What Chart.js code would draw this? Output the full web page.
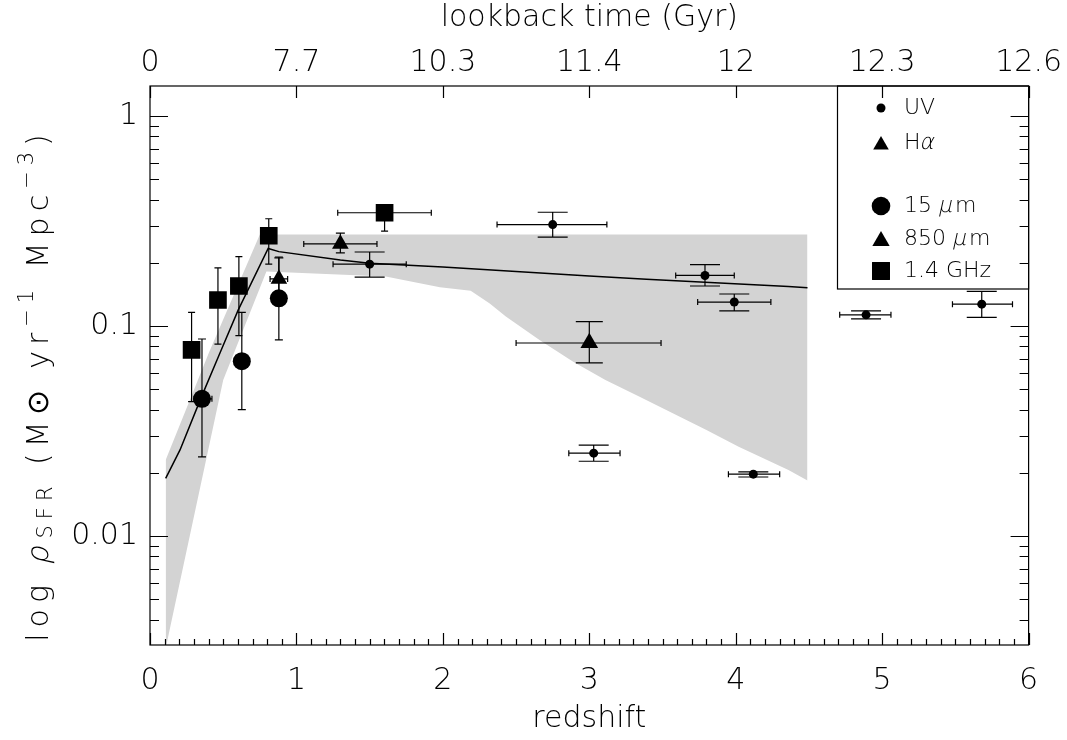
<!DOCTYPE html>
<html>
<head>
<meta charset="utf-8">
<script src="https://cdn.jsdelivr.net/npm/chart.js@4.4.1/dist/chart.umd.min.js"></script>
<style>
  html, body { margin: 0; padding: 0; background: #fff; }
  #wrap { width: 1067px; height: 740px; position: relative; }
</style>
</head>
<body>
<div id="wrap"><canvas id="sfr-chart"></canvas></div>
<script>
// axis ticks: redshift on the bottom, lookback time (Gyr) on top
const redshiftTicks = [0, 1, 2, 3, 4, 5, 6];
const lookbackLabels = ["0", "7.7", "10.3", "11.4", "12", "12.3", "12.6"];
const rhoTickValues = [0.01, 0.1, 1];
const rhoTickLabels = ["0.01", "0.1", "1"];

// UV points
const uvZ      = [1.50, 2.75, 3.03, 3.79, 3.99, 4.12, 4.89, 5.68];
const uvRho    = [0.197, 0.304, 0.0248, 0.174, 0.130, 0.0197, 0.113, 0.127];
const uvZLo    = [1.25, 2.37, 2.86, 3.59, 3.74, 3.95, 4.71, 5.48];
const uvZHi    = [1.75, 3.12, 3.21, 3.99, 4.24, 4.30, 5.06, 5.89];
const uvRhoLo  = [0.171, 0.265, 0.0227, 0.155, 0.118, 0.0191, 0.108, 0.110];
const uvRhoHi  = [0.225, 0.348, 0.0271, 0.196, 0.142, 0.0202, 0.118, 0.146];

// H-alpha points
const haZ      = [0.88, 1.30];
const haRho    = [0.1675, 0.246];
const haZLo    = [0.82, 1.05];
const haZHi    = [0.94, 1.55];
const haRhoLo  = [0.14, 0.223];
const haRhoHi  = [0.211, 0.277];

// 15 micron points
const irZ      = [0.355, 0.627, 0.88];
const irRho    = [0.045, 0.068, 0.1355];
const irZLo    = [0.30, 0.627, 0.88];
const irZHi    = [0.423, 0.627, 0.88];
const irRhoLo  = [0.0238, 0.040, 0.0858];
const irRhoHi  = [0.0867, 0.116, 0.213];

// 850 micron point
const smmZ     = [3.0];
const smmRho   = [0.083];
const smmZLo   = [2.5];
const smmZHi   = [3.49];
const smmRhoLo = [0.0667];
const smmRhoHi = [0.105];

// 1.4 GHz points
const radioZ     = [0.284, 0.464, 0.607, 0.811, 1.602];
const radioRho   = [0.0769, 0.133, 0.155, 0.269, 0.346];
const radioZLo   = [0.284, 0.464, 0.607, 0.811, 1.282];
const radioZHi   = [0.284, 0.464, 0.607, 0.811, 1.921];
const radioRhoLo = [0.0436, 0.082, 0.090, 0.197, 0.283];
const radioRhoHi = [0.116, 0.189, 0.214, 0.324, 0.36];

// model curve
const modelZ   = [0.107, 0.205, 0.352, 0.477, 0.602, 0.807, 0.88, 1.3, 1.5, 2.0, 3.0, 3.39, 4.36, 4.49];
const modelRho = [0.0188, 0.0257, 0.0461, 0.0741, 0.119, 0.234, 0.226, 0.206, 0.199, 0.191, 0.173, 0.167, 0.154, 0.152];

// grey band: upper and lower edges
const bandUpZ   = [0.107, 0.40, 0.75, 4.49];
const bandUpRho = [0.023, 0.074, 0.273, 0.273];
const bandLoZ   = [0.107, 0.50, 0.795, 1.61, 1.98, 2.19, 2.32, 2.43, 2.66, 2.89, 3.11, 3.34, 3.57, 3.80, 4.02, 4.36, 4.49];
const bandLoRho = [0.00292, 0.0553, 0.1815, 0.172, 0.153, 0.147, 0.128, 0.111, 0.0858, 0.0676, 0.0553, 0.0461, 0.0384, 0.032, 0.0266, 0.0206, 0.0184];

const toXY = (xs, ys) => xs.map((x, i) => ({ x: x, y: ys[i] }));

const FONT = "'DejaVu Sans', sans-serif";
Chart.defaults.font.family = FONT;
Chart.defaults.font.weight = "200";
Chart.defaults.color = "#000";

// thin text with a hand-made slant for the greek letters (the oblique face is too heavy)
function putText(ctx, txt, x, y, font, slant) {
  ctx.font = font;
  if (!slant) { ctx.fillText(txt, x, y); return; }
  ctx.save();
  ctx.translate(x, y);
  ctx.transform(1, 0, -0.22, 1, 0, 0);
  ctx.fillText(txt, 0, 0);
  ctx.restore();
}

// error bars, drawn just before each dataset's markers
const errorBars = {
  id: "errorBars",
  beforeDatasetDraw(chart, args) {
    const ds = chart.data.datasets[args.index];
    if (!ds.errors) return;
    const e = ds.errors;
    const x = chart.scales.x, y = chart.scales.y;
    const ctx = chart.ctx;
    ctx.save();
    ctx.strokeStyle = "#000";
    ctx.lineWidth = 1.2;
    for (let i = 0; i < e.z.length; i++) {
      const px = x.getPixelForValue(e.z[i]);
      const py = y.getPixelForValue(e.rho[i]);
      ctx.beginPath();
      if (e.lo[i] !== e.hi[i]) {
        const yl = y.getPixelForValue(e.lo[i]);
        const yh = y.getPixelForValue(e.hi[i]);
        ctx.moveTo(px, yl); ctx.lineTo(px, yh);
        ctx.moveTo(px - e.cap / 2, yl); ctx.lineTo(px + e.cap / 2, yl);
        ctx.moveTo(px - e.cap / 2, yh); ctx.lineTo(px + e.cap / 2, yh);
      }
      if (e.zLo[i] !== e.zHi[i]) {
        const xl = x.getPixelForValue(e.zLo[i]);
        const xh = x.getPixelForValue(e.zHi[i]);
        ctx.moveTo(xl, py); ctx.lineTo(xh, py);
        ctx.moveTo(xl, py - 3); ctx.lineTo(xl, py + 3);
        ctx.moveTo(xh, py - 3); ctx.lineTo(xh, py + 3);
      }
      ctx.stroke();
    }
    ctx.restore();
  }
};

// frame with inward ticks on all four sides
const frame = {
  id: "frame",
  afterDatasetsDraw(chart) {
    const { ctx, chartArea: a } = chart;
    const x = chart.scales.x, y = chart.scales.y;
    ctx.save();
    ctx.strokeStyle = "#000";
    ctx.lineWidth = 1.2;
    ctx.strokeRect(a.left, a.top, a.right - a.left, a.bottom - a.top);
    ctx.beginPath();
    for (let i = 0; i <= 60; i++) {
      const px = Math.round(x.getPixelForValue(i / 10)) + 0.5;
      const len = i % 10 === 0 ? 12 : 6;
      ctx.moveTo(px, a.bottom); ctx.lineTo(px, a.bottom - len);
      if (i % 10 === 0) { ctx.moveTo(px, a.top); ctx.lineTo(px, a.top + 12); }
    }
    for (let e = -3; e <= 0; e++) {
      for (let m = 1; m <= 9; m++) {
        const v = m * Math.pow(10, e);
        if (v < y.min || v > y.max) continue;
        const py = Math.round(y.getPixelForValue(v)) + 0.5;
        const len = m === 1 ? 18 : 9;
        ctx.moveTo(a.left, py); ctx.lineTo(a.left + len, py);
        ctx.moveTo(a.right, py); ctx.lineTo(a.right - len, py);
      }
    }
    ctx.stroke();
    ctx.restore();
  }
};

// legend box in the top right corner, plus the y title with sub/superscripts
const legendAndTitle = {
  id: "legendAndTitle",
  afterDraw(chart) {
    const { ctx, chartArea: a } = chart;
    ctx.save();
    ctx.strokeStyle = "#000";
    ctx.lineWidth = 1.2;
    ctx.strokeRect(837.5, a.top, a.right - 837.5, 289 - a.top);

    const entries = [
      { style: "circle", r: 4.5, y: 108, parts: [["UV", 0]] },
      { style: "triangle", r: 9, y: 143, parts: [["H", 0], ["α", 1]] },
      { style: "circle", r: 9.3, y: 206, parts: [["15 ", 0], ["μ", 1], ["m", 0]] },
      { style: "triangle", r: 10, y: 239, parts: [["850 ", 0], ["μ", 1], ["m", 0]] },
      { style: "rect", r: 12.7, y: 271, parts: [["1.4 GHz", 0]] }
    ];
    const legendFont = "200 22px " + FONT;
    ctx.fillStyle = "#000";
    ctx.textBaseline = "middle";
    for (const en of entries) {
      Chart.helpers.drawPoint(ctx, { pointStyle: en.style, radius: en.r, rotation: 0, borderWidth: 0 },
        881, en.style === "triangle" ? en.y + 2 : en.y);
      let tx = 904;
      for (const [txt, it] of en.parts) {
        putText(ctx, txt, tx, en.y, legendFont, it);
        tx += ctx.measureText(txt).width + (it ? 2 : 0);
      }
    }

    // y axis title: log rho_SFR (M_sun yr^-1 Mpc^-3)
    const big = "200 30px " + FONT, small = "200 21px " + FONT;
    const pieces = [
      ["log ", big, 0, 0], ["ρ", big, 0, 1], ["SFR", small, 7, 0],
      [" (M⊙ yr", big, 0, 0], ["−1", small, -12, 0], [" Mpc", big, 0, 0], ["−3", small, -12, 0], [")", big, 0, 0]
    ];
    ctx.letterSpacing = "6px";
    let total = 0;
    for (const p of pieces) { ctx.font = p[1]; total += ctx.measureText(p[0]).width; }
    ctx.translate(40, 385);
    ctx.rotate(-Math.PI / 2);
    let tx = -total / 2;
    for (const p of pieces) {
      putText(ctx, p[0], tx, p[2], p[1], p[3]);
      tx += ctx.measureText(p[0]).width;
    }
    ctx.restore();
  }
};

const markerDefaults = { backgroundColor: "#000", borderColor: "#000", borderWidth: 0, pointHoverRadius: 0, order: 0 };

new Chart(document.getElementById("sfr-chart"), {
  type: "scatter",
  data: {
    datasets: [
      {
        type: "line", label: "band upper", data: toXY(bandUpZ, bandUpRho), order: 10,
        borderWidth: 0, pointRadius: 0, backgroundColor: "#d3d3d3", fill: "+1", tension: 0
      },
      {
        type: "line", label: "band lower", data: toXY(bandLoZ, bandLoRho), order: 9,
        borderWidth: 0, pointRadius: 0, fill: false, tension: 0
      },
      {
        type: "line", label: "model", data: toXY(modelZ, modelRho), order: 5,
        borderColor: "#000", borderWidth: 1.5, pointRadius: 0, fill: false, tension: 0
      },
      Object.assign({
        label: "UV", data: toXY(uvZ, uvRho), pointStyle: "circle", pointRadius: 4.5,
        errors: { z: uvZ, rho: uvRho, zLo: uvZLo, zHi: uvZHi, lo: uvRhoLo, hi: uvRhoHi, cap: 30 }
      }, markerDefaults),
      Object.assign({
        label: "Hα", data: toXY(haZ, haRho), pointStyle: "triangle", pointRadius: 9.6,
        errors: { z: haZ, rho: haRho, zLo: haZLo, zHi: haZHi, lo: haRhoLo, hi: haRhoHi, cap: 9 }
      }, markerDefaults),
      Object.assign({
        label: "15 μm", data: toXY(irZ, irRho), pointStyle: "circle", pointRadius: 9,
        errors: { z: irZ, rho: irRho, zLo: irZLo, zHi: irZHi, lo: irRhoLo, hi: irRhoHi, cap: 8 }
      }, markerDefaults),
      Object.assign({
        label: "850 μm", data: toXY(smmZ, smmRho), pointStyle: "triangle", pointRadius: 10.2,
        errors: { z: smmZ, rho: smmRho, zLo: smmZLo, zHi: smmZHi, lo: smmRhoLo, hi: smmRhoHi, cap: 27 }
      }, markerDefaults),
      Object.assign({
        label: "1.4 GHz", data: toXY(radioZ, radioRho), pointStyle: "rect", pointRadius: 12.5,
        errors: { z: radioZ, rho: radioRho, zLo: radioZLo, zHi: radioZHi, lo: radioRhoLo, hi: radioRhoHi, cap: 7 }
      }, markerDefaults)
    ]
  },
  options: {
    responsive: true,
    maintainAspectRatio: false,
    animation: false,
    layout: { padding: { left: 0, right: 37, top: 0, bottom: 0 } },
    plugins: { legend: { display: false }, tooltip: { enabled: false } },
    scales: {
      x: {
        type: "linear", position: "bottom", min: 0, max: 6,
        grid: { display: false, drawTicks: false }, border: { display: false },
        afterBuildTicks: s => { s.ticks = redshiftTicks.map(v => ({ value: v })); },
        ticks: { font: { size: 30 }, padding: 18, callback: v => String(v) },
        title: { display: true, text: "redshift", font: { size: 30 }, padding: { top: 0, bottom: 3 } },
        afterFit: s => { s.height = 95; }
      },
      x2: {
        type: "linear", position: "top", min: 0, max: 6,
        grid: { display: false, drawTicks: false }, border: { display: false },
        afterBuildTicks: s => { s.ticks = redshiftTicks.map(v => ({ value: v })); },
        ticks: { font: { size: 30 }, padding: 5, callback: v => lookbackLabels[redshiftTicks.indexOf(v)] },
        title: { display: true, text: "lookback time (Gyr)", font: { size: 30 }, padding: { top: 0, bottom: 0 } },
        afterFit: s => { s.height = 86; }
      },
      y: {
        type: "logarithmic", position: "left", min: 0.003027, max: 1.389,
        grid: { display: false, drawTicks: false }, border: { display: false },
        afterBuildTicks: s => { s.ticks = rhoTickValues.map(v => ({ value: v })); },
        ticks: { font: { size: 30 }, padding: 12, autoSkip: false,
                 callback: v => rhoTickLabels[rhoTickValues.indexOf(v)] },
        afterFit: s => { s.width = 150; }
      }
    }
  },
  plugins: [errorBars, frame, legendAndTitle]
});
</script>
</body>
</html>
